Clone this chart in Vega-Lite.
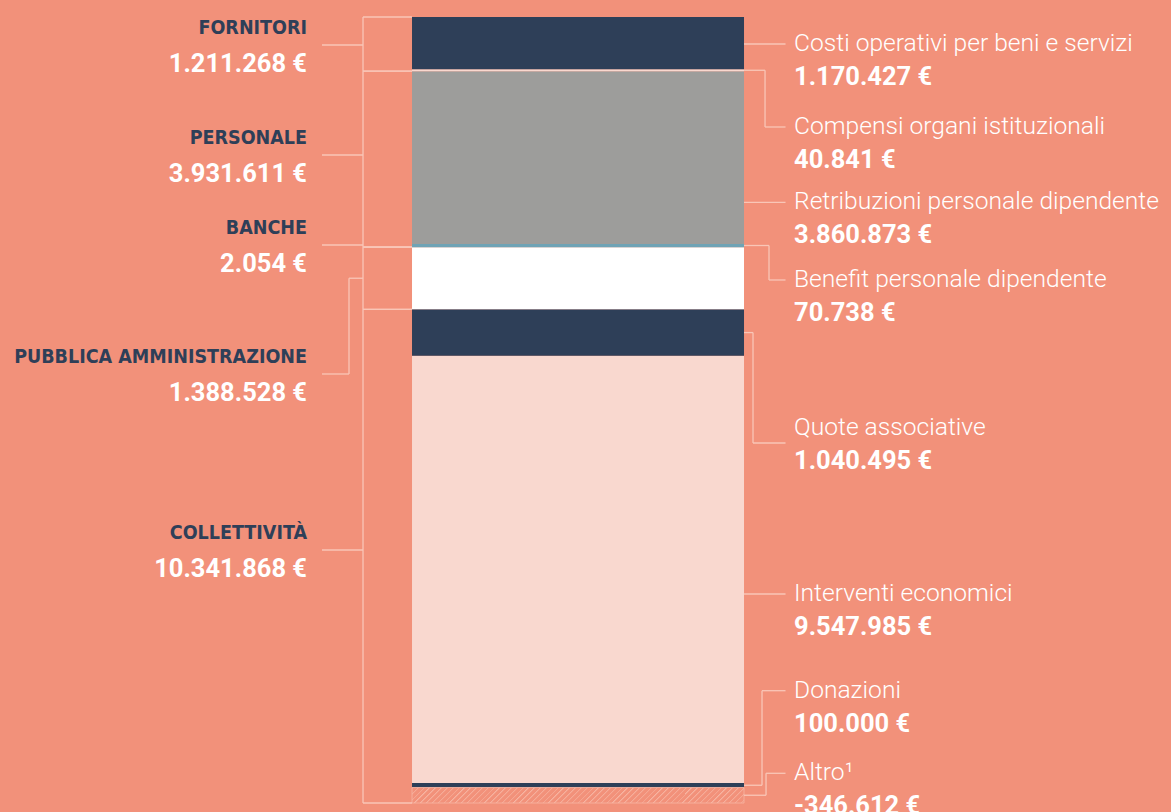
{
  "$schema": "https://vega.github.io/schema/vega-lite/v6.json",
  "width": 1171,
  "height": 786,
  "autosize": {"type": "none"},
  "padding": {"top": 17, "left": 0, "right": 0, "bottom": 9},
  "background": "#f2917a",
  "config": {
    "view": {"stroke": null},
    "locale": {"number": {"decimal": ",", "thousands": ".", "grouping": [3], "currency": ["", " €"], "minus": "-"}}
  },
  "datasets": {
    "voci": [
      {"voce": "Altro¹", "gruppo": "Collettività", "importo": -346612, "ordine": 1, "etichetta_a": 317400, "leader_a": 317400, "gomito": 1.0663},
      {"voce": "Donazioni", "gruppo": "Collettività", "importo": 100000, "ordine": 2, "etichetta_a": 2163700, "leader_a": 2163700, "gomito": 1.0542},
      {"voce": "Interventi economici", "gruppo": "Collettività", "importo": 9547985, "ordine": 3, "etichetta_a": 4325100, "leader_a": 4325100, "gomito": null},
      {"voce": "Quote associative", "gruppo": "Collettività", "importo": 1040495, "ordine": 4, "etichetta_a": 8035500, "leader_a": 7700300, "gomito": 1.0271},
      {"voce": "Pubblica amministrazione", "gruppo": "Pubblica amministrazione", "importo": 1388528, "ordine": 5, "etichetta_a": null, "leader_a": null, "gomito": null},
      {"voce": "Banche", "gruppo": "Banche", "importo": 2054, "ordine": 6, "etichetta_a": null, "leader_a": null, "gomito": null},
      {"voce": "Benefit personale dipendente", "gruppo": "Personale", "importo": 70738, "ordine": 7, "etichetta_a": 11343600, "leader_a": 11343600, "gomito": 1.0753},
      {"voce": "Retribuzioni personale dipendente", "gruppo": "Personale", "importo": 3860873, "ordine": 8, "etichetta_a": 13080400, "leader_a": 13080400, "gomito": null},
      {"voce": "Compensi organi istituzionali", "gruppo": "Fornitori", "importo": 40841, "ordine": 9, "etichetta_a": 14763500, "leader_a": 14763500, "gomito": 1.0633},
      {"voce": "Costi operativi per beni e servizi", "gruppo": "Fornitori", "importo": 1170427, "ordine": 10, "etichetta_a": 16618700, "leader_a": 16618700, "gomito": null}
    ],
    "gruppi": [
      {"gruppo": "Fornitori", "titolo": "FORNITORI", "leader_g": 16596400},
      {"gruppo": "Personale", "titolo": "PERSONALE", "leader_g": 14137600},
      {"gruppo": "Banche", "titolo": "BANCHE", "leader_g": 12126000},
      {"gruppo": "Pubblica amministrazione", "titolo": "PUBBLICA AMMINISTRAZIONE", "leader_g": 9242600},
      {"gruppo": "Collettività", "titolo": "COLLETTIVITÀ", "leader_g": 5308600}
    ]
  },
  "data": {"name": "voci"},
  "transform": [
    {"stack": "importo", "groupby": [], "sort": [{"field": "ordine", "order": "ascending"}], "as": ["y0", "y1"]},
    {"calculate": "(datum.y0 + datum.y1) / 2", "as": "centro"},
    {"calculate": "min(datum.y0, datum.y1)", "as": "basso"},
    {"calculate": "max(datum.y0, datum.y1)", "as": "alto"}
  ],
  "layer": [
    {
      "mark": {"type": "rect"},
      "encoding": {
        "x": {"datum": 0, "type": "quantitative", "scale": {"domain": [-1.241, 2.2861], "nice": false, "zero": false}, "axis": null},
        "x2": {"datum": 1},
        "y": {"field": "y0", "type": "quantitative", "scale": {"nice": false, "zero": false}, "axis": null},
        "y2": {"field": "y1"},
        "color": {
          "field": "voce", "type": "nominal", "legend": null,
          "scale": {
            "domain": ["Altro¹", "Donazioni", "Interventi economici", "Quote associative", "Pubblica amministrazione", "Banche", "Benefit personale dipendente", "Retribuzioni personale dipendente", "Compensi organi istituzionali", "Costi operativi per beni e servizi"],
            "range": ["#f2917a", "#2e3f58", "#f9d8cf", "#2e3f58", "#ffffff", "#6fa3b5", "#6fa3b5", "#9d9d9b", "#f9d8cf", "#2e3f58"]
          }
        }
      }
    },
    {
      "transform": [{"filter": "datum.importo < 0"}],
      "mark": {
        "type": "rect",
        "stroke": "#f7b6a4",
        "strokeWidth": 0.8,
        "color": {
          "gradient": "linear", "x1": 0, "y1": 0, "x2": 1.05, "y2": 0.049,
          "stops": [
            {"offset": 0, "color": "#f7b6a4"}, {"offset": 0.006, "color": "#f2917a"}, {"offset": 0.0167, "color": "#f2917a"},
            {"offset": 0.0167, "color": "#f7b6a4"}, {"offset": 0.0227, "color": "#f2917a"}, {"offset": 0.0333, "color": "#f2917a"},
            {"offset": 0.0333, "color": "#f7b6a4"}, {"offset": 0.0393, "color": "#f2917a"}, {"offset": 0.05, "color": "#f2917a"},
            {"offset": 0.05, "color": "#f7b6a4"}, {"offset": 0.056, "color": "#f2917a"}, {"offset": 0.0667, "color": "#f2917a"},
            {"offset": 0.0667, "color": "#f7b6a4"}, {"offset": 0.0727, "color": "#f2917a"}, {"offset": 0.0833, "color": "#f2917a"},
            {"offset": 0.0833, "color": "#f7b6a4"}, {"offset": 0.0893, "color": "#f2917a"}, {"offset": 0.1, "color": "#f2917a"},
            {"offset": 0.1, "color": "#f7b6a4"}, {"offset": 0.106, "color": "#f2917a"}, {"offset": 0.1167, "color": "#f2917a"},
            {"offset": 0.1167, "color": "#f7b6a4"}, {"offset": 0.1227, "color": "#f2917a"}, {"offset": 0.1333, "color": "#f2917a"},
            {"offset": 0.1333, "color": "#f7b6a4"}, {"offset": 0.1393, "color": "#f2917a"}, {"offset": 0.15, "color": "#f2917a"},
            {"offset": 0.15, "color": "#f7b6a4"}, {"offset": 0.156, "color": "#f2917a"}, {"offset": 0.1667, "color": "#f2917a"},
            {"offset": 0.1667, "color": "#f7b6a4"}, {"offset": 0.1727, "color": "#f2917a"}, {"offset": 0.1833, "color": "#f2917a"},
            {"offset": 0.1833, "color": "#f7b6a4"}, {"offset": 0.1893, "color": "#f2917a"}, {"offset": 0.2, "color": "#f2917a"},
            {"offset": 0.2, "color": "#f7b6a4"}, {"offset": 0.206, "color": "#f2917a"}, {"offset": 0.2167, "color": "#f2917a"},
            {"offset": 0.2167, "color": "#f7b6a4"}, {"offset": 0.2227, "color": "#f2917a"}, {"offset": 0.2333, "color": "#f2917a"},
            {"offset": 0.2333, "color": "#f7b6a4"}, {"offset": 0.2393, "color": "#f2917a"}, {"offset": 0.25, "color": "#f2917a"},
            {"offset": 0.25, "color": "#f7b6a4"}, {"offset": 0.256, "color": "#f2917a"}, {"offset": 0.2667, "color": "#f2917a"},
            {"offset": 0.2667, "color": "#f7b6a4"}, {"offset": 0.2727, "color": "#f2917a"}, {"offset": 0.2833, "color": "#f2917a"},
            {"offset": 0.2833, "color": "#f7b6a4"}, {"offset": 0.2893, "color": "#f2917a"}, {"offset": 0.3, "color": "#f2917a"},
            {"offset": 0.3, "color": "#f7b6a4"}, {"offset": 0.306, "color": "#f2917a"}, {"offset": 0.3167, "color": "#f2917a"},
            {"offset": 0.3167, "color": "#f7b6a4"}, {"offset": 0.3227, "color": "#f2917a"}, {"offset": 0.3333, "color": "#f2917a"},
            {"offset": 0.3333, "color": "#f7b6a4"}, {"offset": 0.3393, "color": "#f2917a"}, {"offset": 0.35, "color": "#f2917a"},
            {"offset": 0.35, "color": "#f7b6a4"}, {"offset": 0.356, "color": "#f2917a"}, {"offset": 0.3667, "color": "#f2917a"},
            {"offset": 0.3667, "color": "#f7b6a4"}, {"offset": 0.3727, "color": "#f2917a"}, {"offset": 0.3833, "color": "#f2917a"},
            {"offset": 0.3833, "color": "#f7b6a4"}, {"offset": 0.3893, "color": "#f2917a"}, {"offset": 0.4, "color": "#f2917a"},
            {"offset": 0.4, "color": "#f7b6a4"}, {"offset": 0.406, "color": "#f2917a"}, {"offset": 0.4167, "color": "#f2917a"},
            {"offset": 0.4167, "color": "#f7b6a4"}, {"offset": 0.4227, "color": "#f2917a"}, {"offset": 0.4333, "color": "#f2917a"},
            {"offset": 0.4333, "color": "#f7b6a4"}, {"offset": 0.4393, "color": "#f2917a"}, {"offset": 0.45, "color": "#f2917a"},
            {"offset": 0.45, "color": "#f7b6a4"}, {"offset": 0.456, "color": "#f2917a"}, {"offset": 0.4667, "color": "#f2917a"},
            {"offset": 0.4667, "color": "#f7b6a4"}, {"offset": 0.4727, "color": "#f2917a"}, {"offset": 0.4833, "color": "#f2917a"},
            {"offset": 0.4833, "color": "#f7b6a4"}, {"offset": 0.4893, "color": "#f2917a"}, {"offset": 0.5, "color": "#f2917a"},
            {"offset": 0.5, "color": "#f7b6a4"}, {"offset": 0.506, "color": "#f2917a"}, {"offset": 0.5167, "color": "#f2917a"},
            {"offset": 0.5167, "color": "#f7b6a4"}, {"offset": 0.5227, "color": "#f2917a"}, {"offset": 0.5333, "color": "#f2917a"},
            {"offset": 0.5333, "color": "#f7b6a4"}, {"offset": 0.5393, "color": "#f2917a"}, {"offset": 0.55, "color": "#f2917a"},
            {"offset": 0.55, "color": "#f7b6a4"}, {"offset": 0.556, "color": "#f2917a"}, {"offset": 0.5667, "color": "#f2917a"},
            {"offset": 0.5667, "color": "#f7b6a4"}, {"offset": 0.5727, "color": "#f2917a"}, {"offset": 0.5833, "color": "#f2917a"},
            {"offset": 0.5833, "color": "#f7b6a4"}, {"offset": 0.5893, "color": "#f2917a"}, {"offset": 0.6, "color": "#f2917a"},
            {"offset": 0.6, "color": "#f7b6a4"}, {"offset": 0.606, "color": "#f2917a"}, {"offset": 0.6167, "color": "#f2917a"},
            {"offset": 0.6167, "color": "#f7b6a4"}, {"offset": 0.6227, "color": "#f2917a"}, {"offset": 0.6333, "color": "#f2917a"},
            {"offset": 0.6333, "color": "#f7b6a4"}, {"offset": 0.6393, "color": "#f2917a"}, {"offset": 0.65, "color": "#f2917a"},
            {"offset": 0.65, "color": "#f7b6a4"}, {"offset": 0.656, "color": "#f2917a"}, {"offset": 0.6667, "color": "#f2917a"},
            {"offset": 0.6667, "color": "#f7b6a4"}, {"offset": 0.6727, "color": "#f2917a"}, {"offset": 0.6833, "color": "#f2917a"},
            {"offset": 0.6833, "color": "#f7b6a4"}, {"offset": 0.6893, "color": "#f2917a"}, {"offset": 0.7, "color": "#f2917a"},
            {"offset": 0.7, "color": "#f7b6a4"}, {"offset": 0.706, "color": "#f2917a"}, {"offset": 0.7167, "color": "#f2917a"},
            {"offset": 0.7167, "color": "#f7b6a4"}, {"offset": 0.7227, "color": "#f2917a"}, {"offset": 0.7333, "color": "#f2917a"},
            {"offset": 0.7333, "color": "#f7b6a4"}, {"offset": 0.7393, "color": "#f2917a"}, {"offset": 0.75, "color": "#f2917a"},
            {"offset": 0.75, "color": "#f7b6a4"}, {"offset": 0.756, "color": "#f2917a"}, {"offset": 0.7667, "color": "#f2917a"},
            {"offset": 0.7667, "color": "#f7b6a4"}, {"offset": 0.7727, "color": "#f2917a"}, {"offset": 0.7833, "color": "#f2917a"},
            {"offset": 0.7833, "color": "#f7b6a4"}, {"offset": 0.7893, "color": "#f2917a"}, {"offset": 0.8, "color": "#f2917a"},
            {"offset": 0.8, "color": "#f7b6a4"}, {"offset": 0.806, "color": "#f2917a"}, {"offset": 0.8167, "color": "#f2917a"},
            {"offset": 0.8167, "color": "#f7b6a4"}, {"offset": 0.8227, "color": "#f2917a"}, {"offset": 0.8333, "color": "#f2917a"},
            {"offset": 0.8333, "color": "#f7b6a4"}, {"offset": 0.8393, "color": "#f2917a"}, {"offset": 0.85, "color": "#f2917a"},
            {"offset": 0.85, "color": "#f7b6a4"}, {"offset": 0.856, "color": "#f2917a"}, {"offset": 0.8667, "color": "#f2917a"},
            {"offset": 0.8667, "color": "#f7b6a4"}, {"offset": 0.8727, "color": "#f2917a"}, {"offset": 0.8833, "color": "#f2917a"},
            {"offset": 0.8833, "color": "#f7b6a4"}, {"offset": 0.8893, "color": "#f2917a"}, {"offset": 0.9, "color": "#f2917a"},
            {"offset": 0.9, "color": "#f7b6a4"}, {"offset": 0.906, "color": "#f2917a"}, {"offset": 0.9167, "color": "#f2917a"},
            {"offset": 0.9167, "color": "#f7b6a4"}, {"offset": 0.9227, "color": "#f2917a"}, {"offset": 0.9333, "color": "#f2917a"},
            {"offset": 0.9333, "color": "#f7b6a4"}, {"offset": 0.9393, "color": "#f2917a"}, {"offset": 0.95, "color": "#f2917a"},
            {"offset": 0.95, "color": "#f7b6a4"}, {"offset": 0.956, "color": "#f2917a"}, {"offset": 0.9667, "color": "#f2917a"},
            {"offset": 0.9667, "color": "#f7b6a4"}, {"offset": 0.9727, "color": "#f2917a"}, {"offset": 0.9833, "color": "#f2917a"},
            {"offset": 0.9833, "color": "#f7b6a4"}, {"offset": 0.9893, "color": "#f2917a"}, {"offset": 1, "color": "#f2917a"}
          ]
        }
      },
      "encoding": {
        "x": {"datum": 0, "type": "quantitative"},
        "x2": {"datum": 1},
        "y": {"field": "y0", "type": "quantitative"},
        "y2": {"field": "y1"}
      }
    },
    {
      "transform": [{"aggregate": [{"op": "min", "field": "basso", "as": "minimo"}, {"op": "max", "field": "alto", "as": "massimo"}]}],
      "mark": {"type": "rule", "color": "#f9c6b7", "strokeWidth": 1.3},
      "encoding": {
        "x": {"datum": -0.1476, "type": "quantitative"},
        "y": {"field": "minimo", "type": "quantitative"},
        "y2": {"field": "massimo"}
      }
    },
    {
      "transform": [
        {"aggregate": [{"op": "min", "field": "basso", "as": "basso_g"}, {"op": "max", "field": "alto", "as": "alto_g"}], "groupby": ["gruppo"]},
        {"fold": ["basso_g", "alto_g"], "as": ["estremo", "confine"]}
      ],
      "mark": {"type": "rule", "color": "#f9c6b7", "strokeWidth": 1.3},
      "encoding": {
        "x": {"datum": -0.1476, "type": "quantitative"},
        "x2": {"datum": 0},
        "y": {"field": "confine", "type": "quantitative"}
      }
    },
    {
      "transform": [
        {"aggregate": [{"op": "sum", "field": "importo", "as": "totale"}], "groupby": ["gruppo"]},
        {"lookup": "gruppo", "from": {"data": {"name": "gruppi"}, "key": "gruppo", "fields": ["titolo", "leader_g"]}},
        {"filter": "datum.gruppo != 'Pubblica amministrazione'"}
      ],
      "mark": {"type": "rule", "color": "#f9c6b7", "strokeWidth": 1.3},
      "encoding": {
        "x": {"datum": -0.2711, "type": "quantitative"},
        "x2": {"datum": -0.1476},
        "y": {"field": "leader_g", "type": "quantitative"}
      }
    },
    {
      "transform": [{"filter": "datum.gruppo == 'Pubblica amministrazione'"}],
      "mark": {"type": "rule", "color": "#f9c6b7", "strokeWidth": 1.3},
      "encoding": {
        "x": {"datum": -0.1898, "type": "quantitative"},
        "x2": {"datum": -0.1476},
        "y": {"field": "centro", "type": "quantitative"}
      }
    },
    {
      "transform": [
        {"filter": "datum.gruppo == 'Pubblica amministrazione'"},
        {"lookup": "gruppo", "from": {"data": {"name": "gruppi"}, "key": "gruppo", "fields": ["leader_g"]}}
      ],
      "mark": {"type": "rule", "color": "#f9c6b7", "strokeWidth": 1.3},
      "encoding": {
        "x": {"datum": -0.1898, "type": "quantitative"},
        "y": {"field": "centro", "type": "quantitative"},
        "y2": {"field": "leader_g"}
      }
    },
    {
      "transform": [
        {"filter": "datum.gruppo == 'Pubblica amministrazione'"},
        {"lookup": "gruppo", "from": {"data": {"name": "gruppi"}, "key": "gruppo", "fields": ["leader_g"]}}
      ],
      "mark": {"type": "rule", "color": "#f9c6b7", "strokeWidth": 1.3},
      "encoding": {
        "x": {"datum": -0.2711, "type": "quantitative"},
        "x2": {"datum": -0.1898},
        "y": {"field": "leader_g", "type": "quantitative"}
      }
    },
    {
      "transform": [
        {"aggregate": [{"op": "sum", "field": "importo", "as": "totale"}], "groupby": ["gruppo"]},
        {"lookup": "gruppo", "from": {"data": {"name": "gruppi"}, "key": "gruppo", "fields": ["titolo", "leader_g"]}}
      ],
      "mark": {"type": "text", "align": "right", "baseline": "middle", "dy": -17, "font": "DejaVu Sans Condensed, sans-serif", "fontWeight": "bold", "fontSize": 19.5, "color": "#2e3f58"},
      "encoding": {
        "x": {"datum": -0.3163, "type": "quantitative"},
        "y": {"field": "leader_g", "type": "quantitative"},
        "text": {"field": "titolo", "type": "nominal"}
      }
    },
    {
      "transform": [
        {"aggregate": [{"op": "sum", "field": "importo", "as": "totale"}], "groupby": ["gruppo"]},
        {"lookup": "gruppo", "from": {"data": {"name": "gruppi"}, "key": "gruppo", "fields": ["titolo", "leader_g"]}}
      ],
      "mark": {"type": "text", "align": "right", "baseline": "middle", "dy": 19, "font": "Roboto, sans-serif", "fontWeight": "bold", "fontSize": 25.5, "color": "#ffffff"},
      "encoding": {
        "x": {"datum": -0.3163, "type": "quantitative"},
        "y": {"field": "leader_g", "type": "quantitative"},
        "text": {"field": "totale", "type": "quantitative", "format": "$,.0f"}
      }
    },
    {
      "transform": [{"filter": "datum.etichetta_a != null && datum.gomito == null"}],
      "mark": {"type": "rule", "color": "#f9c6b7", "strokeWidth": 1.3},
      "encoding": {
        "x": {"datum": 1, "type": "quantitative"},
        "x2": {"datum": 1.125},
        "y": {"field": "leader_a", "type": "quantitative"}
      }
    },
    {
      "transform": [{"filter": "datum.gomito != null"}],
      "mark": {"type": "rule", "color": "#f9c6b7", "strokeWidth": 1.3},
      "encoding": {
        "x": {"field": "gomito", "type": "quantitative"},
        "x2": {"datum": 1},
        "y": {"field": "centro", "type": "quantitative"}
      }
    },
    {
      "transform": [{"filter": "datum.gomito != null"}],
      "mark": {"type": "rule", "color": "#f9c6b7", "strokeWidth": 1.3},
      "encoding": {
        "x": {"field": "gomito", "type": "quantitative"},
        "y": {"field": "centro", "type": "quantitative"},
        "y2": {"field": "leader_a"}
      }
    },
    {
      "transform": [{"filter": "datum.gomito != null"}],
      "mark": {"type": "rule", "color": "#f9c6b7", "strokeWidth": 1.3},
      "encoding": {
        "x": {"field": "gomito", "type": "quantitative"},
        "x2": {"datum": 1.125},
        "y": {"field": "leader_a", "type": "quantitative"}
      }
    },
    {
      "transform": [{"filter": "datum.etichetta_a != null"}],
      "mark": {"type": "text", "align": "left", "baseline": "middle", "font": "Roboto, sans-serif", "fontWeight": 300, "fontSize": 24.6, "color": "#ffffff"},
      "encoding": {
        "x": {"datum": 1.1506, "type": "quantitative"},
        "y": {"field": "etichetta_a", "type": "quantitative"},
        "text": {"field": "voce", "type": "nominal"}
      }
    },
    {
      "transform": [{"filter": "datum.etichetta_a != null"}],
      "mark": {"type": "text", "align": "left", "baseline": "middle", "dy": 33, "font": "Roboto, sans-serif", "fontWeight": "bold", "fontSize": 25.5, "color": "#ffffff"},
      "encoding": {
        "x": {"datum": 1.1506, "type": "quantitative"},
        "y": {"field": "etichetta_a", "type": "quantitative"},
        "text": {"field": "importo", "type": "quantitative", "format": "$,.0f"}
      }
    }
  ]
}
